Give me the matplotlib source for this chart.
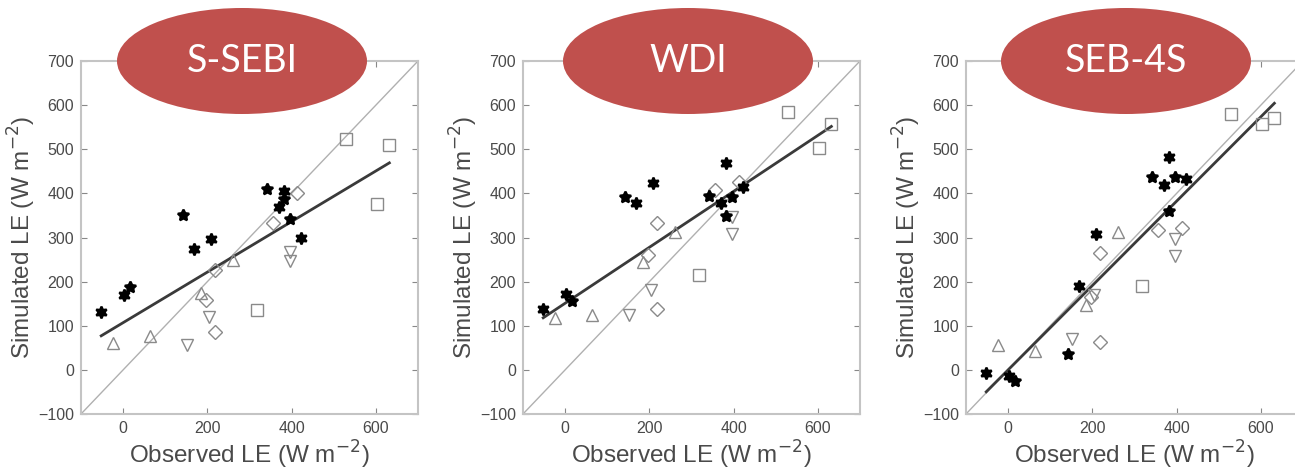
import numpy as np
import matplotlib.pyplot as plt
from matplotlib.patches import Ellipse

# observed LE, shared by the three panels
obs_filled = [-52, 2, 16, 143, 168, 208, 342, 370, 383, 383, 397, 422]
mk_filled = ["hex", "hex", "star", "star", "hex", "hex", "star", "hex", "hex", "star", "star", "hex"]
obs_open = [-25, 64, 151, 186, 196, 204, 218, 218, 260, 317, 355, 395, 397, 412, 528, 603, 632]
mk_open = ["^", "^", "v", "^", "D", "v", "D", "D", "^", "s", "D", "v", "v", "D", "s", "s", "s"]

titles = ["S-SEBI", "WDI", "SEB-4S"]

sim_filled = [
    [132, 170, 188, 351, 273, 297, 411, 369, 406, 388, 342, 300],
    [139, 171, 157, 391, 379, 424, 395, 379, 468, 349, 392, 415],
    [-8, -15, -25, 36, 191, 309, 437, 419, 483, 360, 437, 433],
]
sim_open = [
    [62, 77, 56, 174, 158, 120, 85, 226, 249, 135, 333, 268, 247, 400, 523, 377, 509],
    [117, 124, 124, 245, 260, 181, 137, 332, 313, 215, 407, 347, 307, 426, 585, 502, 558],
    [56, 42, 71, 147, 165, 170, 64, 266, 313, 190, 317, 296, 257, 321, 579, 558, 570],
]
fit_slope = [0.573, 0.634, 0.956]
fit_icept = [107, 151, 0]

W, H = 1295, 471
fig = plt.figure(figsize=(W / 100, H / 100), dpi=100)
plt.rcParams["font.family"] = ["Liberation Sans", "DejaVu Sans"]

lefts = [81, 523, 966]
markers = {"hex": (6, 1, 0), "star": (5, 1, 0)}
grey = "#4a4a4a"

for i in range(3):
    ax = fig.add_axes([lefts[i] / W, (H - 414) / H, 337 / W, 353 / H])
    ax.set_xlim(-100, 700)
    ax.set_ylim(-100, 700)
    ax.plot([-100, 700], [-100, 700], color="#b0b0b0", lw=1, zorder=1)
    xs = np.array([min(obs_filled + obs_open), max(obs_filled + obs_open)])
    ax.plot(xs, fit_slope[i] * xs + fit_icept[i], color="#3a3a3a", lw=2, zorder=2)
    for x, y, m in zip(obs_open, sim_open[i], mk_open):
        ms = 7.5 if m == "D" else 9
        ax.plot(x, y, marker=m, ms=ms, mfc="none", mec="#8a8a8a", mew=1, zorder=3)
    for x, y, m in zip(obs_filled, sim_filled[i], mk_filled):
        ax.plot(x, y, marker=markers[m], ms=8.5, color="black", mec="black", mew=1.6, zorder=4)
    ax.set_xticks([0, 200, 400, 600])
    ax.set_yticks(range(-100, 701, 100))
    ax.tick_params(direction="in", length=4, top=True, right=True, color="#888888",
                   labelsize=11.5, labelcolor=grey, pad=5)
    for s in ax.spines.values():
        s.set_color("#c4c4c4")
        s.set_linewidth(1.5)
    ax.set_xlabel("Observed LE (W m$^{-2}$)", fontsize=17.5, color=grey, labelpad=2)
    ax.set_ylabel("Simulated LE (W m$^{-2}$)", fontsize=17.5, color=grey, labelpad=0)

    cx = [242, 688, 1126][i]
    e = Ellipse((cx / W, 1 - 61 / H), 250 / W, 106 / H, transform=fig.transFigure,
                facecolor="#c0504d", edgecolor="none", zorder=10)
    fig.add_artist(e)
    fig.text(cx / W, 1 - 61 / H, titles[i], ha="center", va="center", color="white",
             fontsize=27, family=["Lato", "DejaVu Sans"], zorder=11)

fig.savefig("out.png", dpi=100, facecolor="white")
